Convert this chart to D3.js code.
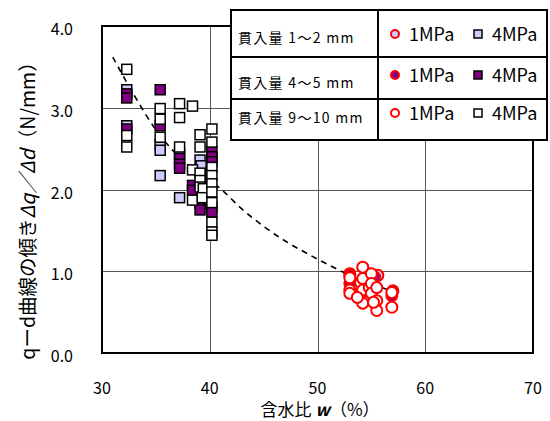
<!DOCTYPE html>
<html>
<head>
<meta charset="utf-8">
<script src="https://cdn.jsdelivr.net/npm/d3@7"></script>
<style>
body { margin: 0; background: #fff; }
text { font-family: "Noto Sans CJK JP", "Liberation Sans", sans-serif; fill: #000; }
</style>
</head>
<body>
<div id="chart"></div>
<script>
// values: [water content w (%), slope (N/mm)]
var sq12 = [[32.3,3.22],[32.3,2.78],[35.4,2.55],[35.4,2.48],[35.4,2.17],[37.2,2.44],[37.2,1.90],[39.1,2.36],[39.2,2.29]];
var sq45 = [[32.3,3.17],[32.3,3.12],[32.3,2.74],[35.4,3.22],[35.4,2.78],[37.2,2.38],[37.2,2.31],[37.2,2.26],
	    [38.4,2.05],[38.4,1.99],[39.1,1.83],[39.1,1.75],[40.2,2.46],[40.2,2.40],[40.2,2.34],[40.2,1.78],[40.2,1.72],[39.4,2.15]];
var sq910 = [[32.3,3.47],[32.3,2.66],[32.3,2.52],[35.4,2.99],[35.4,2.86],[35.4,2.64],[37.2,3.05],[37.2,2.88],[37.2,2.52],
	     [38.4,3.02],[38.4,2.24],[38.4,1.87],[39.1,2.67],[39.1,2.52],[39.1,2.20],[39.1,2.11],[39.1,2.03],[39.4,2.01],[39.3,1.90],
	     [40.2,2.74],[40.2,2.58],[40.2,2.27],[40.2,2.17],[40.2,2.07],[40.2,1.97],[40.2,1.84],[40.2,1.60],[40.2,1.48],[40.2,1.44]];
var ci12 = [[54.7,0.97],[55.6,0.95],[53.0,0.97]];
var ci45 = [[53.0,0.95],[53.0,0.85],[56.9,0.70],[57.0,0.76],[55.3,0.93]];
var ci910 = [[53.0,0.92],[53.0,0.77],[53.0,0.73],[54.0,0.86],[54.0,0.73],[54.2,1.05],[54.2,0.91],[54.2,0.77],[54.2,0.61],
	     [54.8,0.80],[55.0,0.97],[55.0,0.85],[55.0,0.73],[55.5,0.80],[55.5,0.64],[55.5,0.52],[56.9,0.74],[56.9,0.56],[53.7,0.68],[55.2,0.62]];
// dashed trend line
var trend = [[31.0,3.62],[33,3.15],[35,2.73],[37,2.42],[39,2.21],[41,2.01],[43,1.76],[45,1.55],[47,1.37],
	     [49,1.22],[51,1.08],[53,0.95],[55,0.85],[57,0.75]];

var xTicks = [30, 40, 50, 60, 70];
var yTicks = [0, 1, 2, 3, 4];
var legendRows = ["貫入量 1～2 mm", "貫入量 4～5 mm", "貫入量 9～10 mm"];
var legendFills = ["#ccccff", "#800080", "#ffffff"];
var seriesLabels = ["1MPa", "4MPa"];

var W = 550, H = 421;
// plot box (don't use "top" at global scope, it's window.top)
var pLeft = 102, pRight = 533, pTop = 26, pBottom = 353;

var svg = d3.select('#chart').append('svg')
    .attr('width', W)
    .attr('height', H);

var x = d3.scaleLinear().domain([30, 70]).range([pLeft, pRight]);
var y = d3.scaleLinear().domain([0, 4]).range([pBottom, pTop]);

// grid
svg.append('g').selectAll('line')
    .data(xTicks.slice(1, -1))
    .enter().append('line')
    .attr('x1', function(d) { return Math.round(x(d)) + 0.5; })
    .attr('x2', function(d) { return Math.round(x(d)) + 0.5; })
    .attr('y1', pTop).attr('y2', pBottom)
    .attr('stroke', '#555').attr('stroke-width', 1);

svg.append('g').selectAll('line')
    .data(yTicks.slice(1, -1))
    .enter().append('line')
    .attr('y1', function(d) { return Math.round(y(d)) + 0.5; })
    .attr('y2', function(d) { return Math.round(y(d)) + 0.5; })
    .attr('x1', pLeft).attr('x2', pRight)
    .attr('stroke', '#555').attr('stroke-width', 1);

// frame
svg.append('rect')
    .attr('x', pLeft).attr('y', pTop)
    .attr('width', pRight - pLeft).attr('height', pBottom - pTop)
    .attr('fill', 'none').attr('stroke', '#000').attr('stroke-width', 2);

// tick labels
svg.append('g').selectAll('text')
    .data(yTicks)
    .enter().append('text')
    .attr('x', 73)
    .attr('y', function(d) { return y(d) + 9; })
    .attr('text-anchor', 'end')
    .attr('font-size', 16)
    .text(function(d) { return d3.format('.1f')(d); });

svg.append('g').selectAll('text')
    .data(xTicks)
    .enter().append('text')
    .attr('x', function(d) { return x(d); })
    .attr('y', 394)
    .attr('text-anchor', 'middle')
    .attr('font-size', 16)
    .text(function(d) { return d; });

// axis titles
var xt = svg.append('text')
    .attr('x', 320).attr('y', 416)
    .attr('text-anchor', 'middle')
    .attr('font-size', 17);
xt.append('tspan').text('含水比 ');
xt.append('tspan').attr('font-style', 'italic').attr('font-weight', 'bold').text('w');
xt.append('tspan').text('（%）');

var yt = svg.append('text')
    .attr('transform', 'translate(35,206) rotate(-90)')
    .attr('text-anchor', 'middle')
    .attr('font-size', 19.5);
yt.append('tspan').text('qーd曲線の傾き');
yt.append('tspan').attr('font-style', 'italic').text('Δq／Δd');
yt.append('tspan').text('（N/mm）');

// trend line
svg.append('path')
    .datum(trend)
    .attr('fill', 'none')
    .attr('stroke', '#000')
    .attr('stroke-width', 1.6)
    .attr('stroke-dasharray', '6,5')
    .attr('d', d3.line()
	  .x(function(d) { return x(d[0]); })
	  .y(function(d) { return y(d[1]); })
	  .curve(d3.curveMonotoneX));

// markers
function drawCircles(data, fill) {
    svg.append('g').selectAll('circle')
	.data(data)
	.enter().append('circle')
	.attr('cx', function(d) { return x(d[0]); })
	.attr('cy', function(d) { return y(d[1]); })
	.attr('r', 5.5)
	.attr('fill', fill)
	.attr('stroke', '#ff0000')
	.attr('stroke-width', 2);
}
function drawSquares(data, fill) {
    svg.append('g').selectAll('rect')
	.data(data)
	.enter().append('rect')
	.attr('x', function(d) { return x(d[0]) - 5; })
	.attr('y', function(d) { return y(d[1]) - 5; })
	.attr('width', 10).attr('height', 10)
	.attr('fill', fill)
	.attr('stroke', '#000')
	.attr('stroke-width', 1.5);
}
drawCircles(ci12, legendFills[0]);
drawSquares(sq12, legendFills[0]);
drawCircles(ci45, legendFills[1]);
drawSquares(sq45, legendFills[1]);
drawCircles(ci910, legendFills[2]);
drawSquares(sq910, legendFills[2]);

// legend table
var lg = svg.append('g');
var lx0 = 231, lx1 = 378, lx2 = 547;
var rowY = [10, 57, 99, 140];
lg.append('rect')
    .attr('x', lx0).attr('y', rowY[0])
    .attr('width', lx2 - lx0).attr('height', rowY[3] - rowY[0])
    .attr('fill', '#fff').attr('stroke', '#000').attr('stroke-width', 2);
lg.append('line')
    .attr('x1', lx1).attr('x2', lx1).attr('y1', rowY[0]).attr('y2', rowY[3])
    .attr('stroke', '#000').attr('stroke-width', 2);
lg.selectAll('.sep')
    .data(rowY.slice(1, 3))
    .enter().append('line')
    .attr('x1', lx0).attr('x2', lx2)
    .attr('y1', function(d) { return d; }).attr('y2', function(d) { return d; })
    .attr('stroke', '#000').attr('stroke-width', 2);

var labelY = [43, 88, 123];
var markY = [34, 75, 113];
legendRows.forEach(function(t, i) {
    lg.append('text')
	.attr('x', 238).attr('y', labelY[i])
	.attr('font-size', 14)
	.attr('letter-spacing', 1.3)
	.text(t);
    lg.append('circle')
	.attr('cx', 395).attr('cy', markY[i]).attr('r', 4)
	.attr('fill', legendFills[i]).attr('stroke', '#ff0000').attr('stroke-width', 2);
    lg.append('text')
	.attr('x', 409).attr('y', markY[i] + 7)
	.attr('font-size', 18)
	.text(seriesLabels[0]);
    lg.append('rect')
	.attr('x', 474).attr('y', markY[i] - 4).attr('width', 8).attr('height', 8)
	.attr('fill', legendFills[i]).attr('stroke', '#000').attr('stroke-width', 1.5);
    lg.append('text')
	.attr('x', 492).attr('y', markY[i] + 7)
	.attr('font-size', 18)
	.text(seriesLabels[1]);
});
</script>
</body>
</html>
